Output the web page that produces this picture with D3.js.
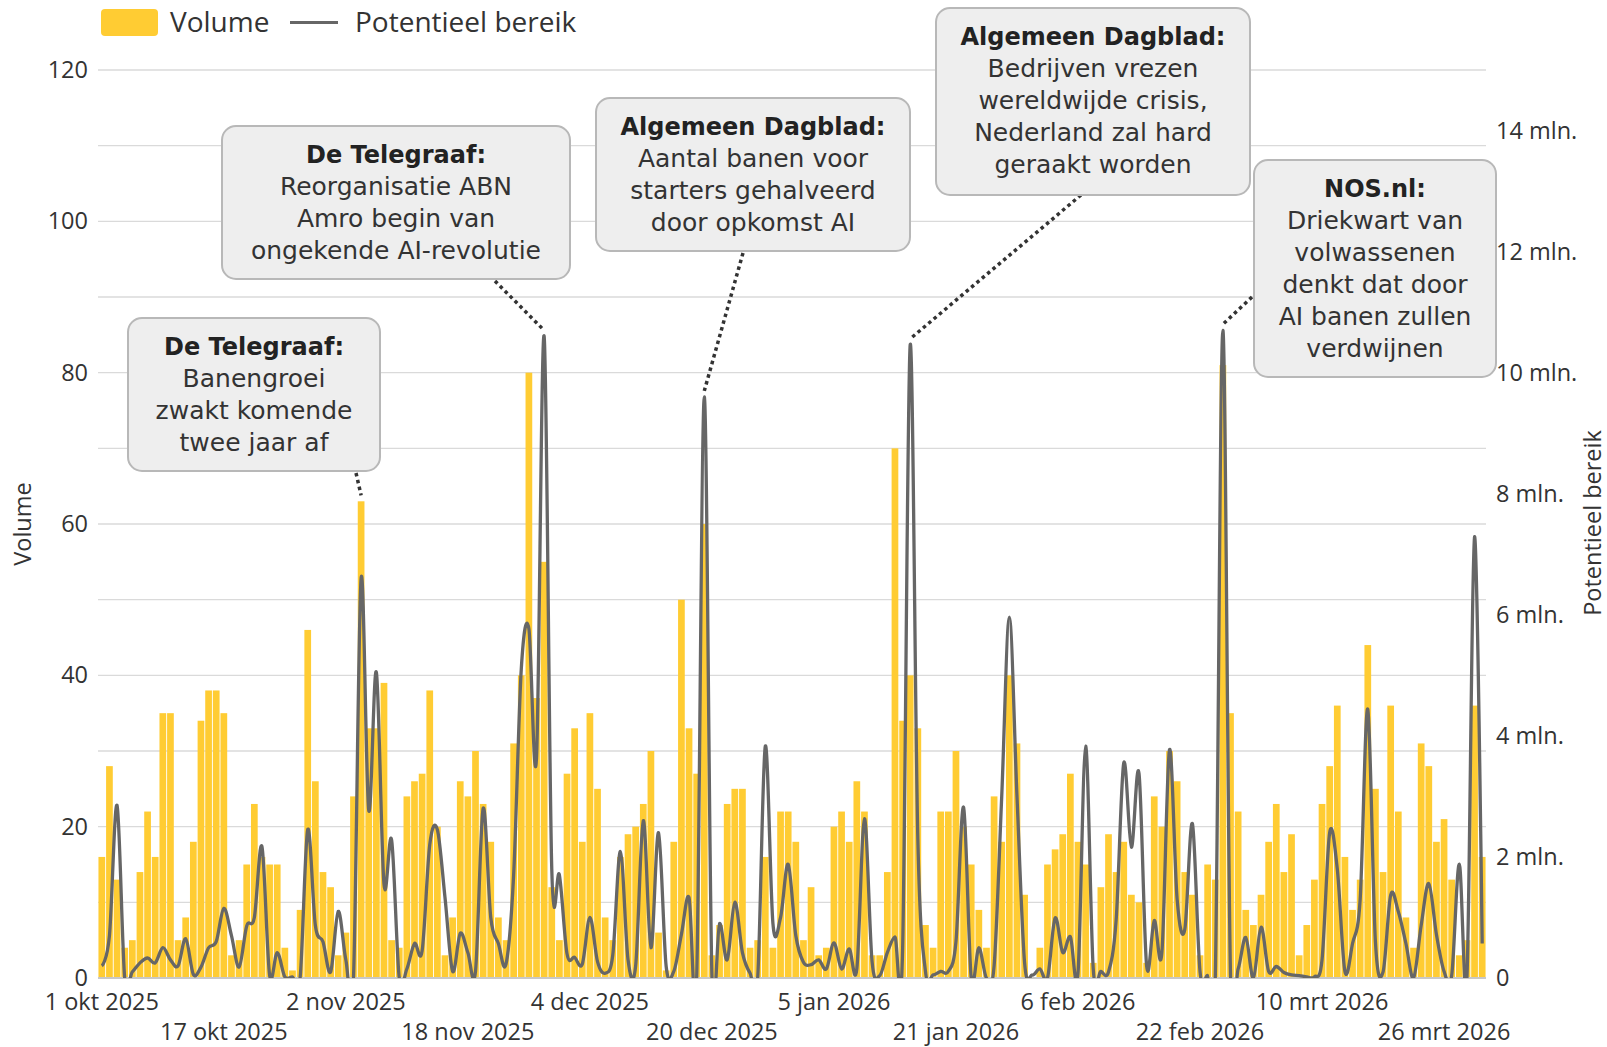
<!DOCTYPE html>
<html><head><meta charset="utf-8">
<script src="https://cdn.jsdelivr.net/npm/d3@7"></script>
<style>
html,body{margin:0;padding:0;background:#fff;}
svg{display:block;}
</style></head>
<body>
<svg id="chart" width="1607" height="1047"></svg>
<script>
// ---------------- DATA ----------------
const startDate = new Date(2025, 9, 1);   // 1 okt 2025
const dayCount = 182;                      // t/m 31 mrt 2026

const volume = [
  16,28,13,4,5,14,22,16,35,35, 5,8,18,34,38,38,35,3,5,15, 23,16,15,15,4,1,9,46,26,14, 12,
  3,6,24,63,33,33,39,5,4,24, 26,27,38,20,3,8,26,24,30,23, 18,8,5,31,40,80,37,55,12,5,
  27,33,18,35,25,8,5,16,19,20, 23,30,6,1,18,50,33,27,60,3, 7,23,25,25,4,5,16,4,22,22,
  18,5,12,3,4,20,22,18,26,22, 3,3,14,70,34,40,33,7,4,22, 22,30,20,15,9,4,24,18,40,31,
  11,0,4,15,17,19,27,18,15,2, 12,19,14,18,11,10,2,24,20,30, 26,14,11,3,15,13,81,35,22,9,
  7,11,18,23,14,19,3,7,13,23, 28,36,16,9,13,44,25,14,36,22, 8,4,31,28,18,21,13,3,5,36, 16
];

// Potentieel bereik, in miljoenen
const reach = [
  0.2,0.7,2.85,0,0.1,0.25,0.33,0.25,0.5,0.3, 0.2,0.65,0.06,0.18,0.5,0.6,1.15,0.7,0.18,0.86,
  1.0,2.17,0.05,0.42,0.02,0.02,0,2.45,0.87,0.6, 0.1,
  1.1,0.3,0,6.6,2.77,5.05,1.55,2.28,0,0.15, 0.57,0.45,2.2,2.45,1.33,0.11,0.74,0.42,0.11,2.8,
  1.0,0.57,0.23,1.7,5.1,5.77,3.64,10.6,1.8,1.7,
  0.4,0.34,0.23,1.0,0.27,0.08,0.38,2.09,0.3,0.2, 2.6,0.5,2.4,0.19,0.11,0.72,1.33,0,9.6,0.05,
  0.9,0.3,1.25,0.42,0.08,0,3.83,0.9,1.0,1.88,
  0.7,0.26,0.22,0.3,0.15,0.58,0.15,0.48,0.15,2.63, 0.27,0.04,0.42,0.68,0.45,10.46,2.3,0.11,0.05,0.11,
  0.11,0.6,2.82,0,0.5,0,0.2,3.0,5.96,3.0,
  0.25,0.05,0.15,0,0.99,0.42,0.68,0.08,3.83,0.15, 0.11,0.1,0.95,3.55,2.16,3.38,0.2,0.95,0.42,3.77,
  1.3,0.8,2.55,0.11,0.04,0,10.7,0.05,0.15,0.67,
  0,0.84,0.11,0.19,0.09,0.05,0.04,0.02,0.02,0.3, 2.4,1.8,0.11,0.57,1.3,4.44,0.6,0.1,1.37,1.1,
  0.57,0,0.87,1.56,0.72,0.11,0.04,1.88,0,7.29, 0.57
];

const leftTicks = [0,20,40,60,80,100,120];
const leftGrid = [0,10,20,30,40,50,60,70,80,90,100,110,120];
const rightTicks = [0,2,4,6,8,10,12,14];
const rightTickLabels = ["0","2 mln.","4 mln.","6 mln.","8 mln.","10 mln.","12 mln.","14 mln."];
const xTickDays = [0,16,32,48,64,80,96,112,128,144,160,176];
const xTickLabels = ["1 okt 2025","17 okt 2025","2 nov 2025","18 nov 2025","4 dec 2025","20 dec 2025",
                     "5 jan 2026","21 jan 2026","6 feb 2026","22 feb 2026","10 mrt 2026","26 mrt 2026"];
const legendLabels = ["Volume","Potentieel bereik"];
const axisTitles = ["Volume","Potentieel bereik"];

const annotationTitles = ["De Telegraaf:","De Telegraaf:","Algemeen Dagblad:","Algemeen Dagblad:","NOS.nl:"];
const annotationLines = [
  ["Banengroei","zwakt komende","twee jaar af"],
  ["Reorganisatie ABN","Amro begin van","ongekende AI-revolutie"],
  ["Aantal banen voor","starters gehalveerd","door opkomst AI"],
  ["Bedrijven vrezen","wereldwijde crisis,","Nederland zal hard","geraakt worden"],
  ["Driekwart van","volwassenen","denkt dat door","AI banen zullen","verdwijnen"]
];
const annotationDay = [34,58,79,106,147];
const annotationSeries = ["volume","reach","reach","reach","reach"];

// ---------------- LAYOUT ----------------
const plot = {left:98, right:1486, top:70, bottom:978};
const boxLayout = [
  {x:128, y:318, w:252, h:153, sx:356, sy:473},
  {x:222, y:126, w:348, h:153, sx:495, sy:281},
  {x:596, y:98,  w:314, h:153, sx:743, sy:253},
  {x:936, y:8,   w:314, h:187, sx:1081, sy:195},
  {x:1254,y:160, w:242, h:217, sx:1252, sy:297}
];
const C = {bar:"#ffcc33", line:"#666666", grid:"#dadada", axis:"#c8c8c8", text:"#333333"};
const axisFont = "'Open Sans', sans-serif";
const annoFont = "'DejaVu Sans', sans-serif";

const svg = d3.select("#chart");
const days = d3.range(dayCount).map(i => d3.timeDay.offset(startDate, i));

const x = d3.scaleBand().domain(d3.range(dayCount)).range([plot.left, plot.right])
  .paddingInner(0.12).paddingOuter(0.06);
const yL = d3.scaleLinear().domain([0,120]).range([plot.bottom, plot.top]);
const yR = d3.scaleLinear().domain([0,15]).range([plot.bottom, plot.top]);
const cx = i => x(i) + x.bandwidth()/2;

// grid
svg.append("g").selectAll("line").data(leftGrid).join("line")
  .attr("x1", plot.left).attr("x2", plot.right)
  .attr("y1", d => yL(d)).attr("y2", d => yL(d))
  .attr("stroke", C.grid).attr("stroke-width", 1.3);

// bars
svg.append("g").selectAll("rect").data(volume).join("rect")
  .attr("x", (d,i) => x(i)).attr("width", x.bandwidth())
  .attr("y", d => yL(d)).attr("height", d => yL(0) - yL(d))
  .attr("fill", C.bar);

// baseline
svg.append("line").attr("x1", plot.left).attr("x2", plot.right)
  .attr("y1", yL(0)).attr("y2", yL(0)).attr("stroke", C.axis).attr("stroke-width", 2);

// line
svg.append("clipPath").attr("id","clip").append("rect")
  .attr("x", plot.left - 10).attr("y", 0).attr("width", plot.right - plot.left + 20).attr("height", plot.bottom);
const lineGen = d3.line().x((d,i) => cx(i)).y(d => yR(d)).curve(d3.curveCardinal.tension(0));
svg.append("path").datum(reach).attr("d", lineGen)
  .attr("clip-path","url(#clip)")
  .attr("fill","none").attr("stroke", C.line).attr("stroke-width", 3.3)
  .attr("stroke-linejoin","round");

// left axis
const gL = svg.append("g").attr("transform", `translate(${plot.left},0)`)
  .call(d3.axisLeft(yL).tickValues(leftTicks).tickSize(0).tickPadding(10));
gL.select(".domain").remove();
gL.selectAll("text").attr("font-family", axisFont).attr("font-size", 23.5).attr("fill", C.text);

// right axis
const gR = svg.append("g").attr("transform", `translate(${plot.right},0)`)
  .call(d3.axisRight(yR).tickValues(rightTicks).tickFormat((d,i) => rightTickLabels[i]).tickSize(0).tickPadding(10));
gR.select(".domain").remove();
gR.selectAll("text").attr("font-family", axisFont).attr("font-size", 23.5).attr("fill", C.text);

// bottom axis
const gB = svg.append("g").attr("transform", `translate(0,${plot.bottom})`)
  .call(d3.axisBottom(x).tickValues(xTickDays).tickFormat((d,i) => xTickLabels[i]).tickSize(0).tickPadding(15));
gB.select(".domain").remove();
gB.selectAll("text").attr("font-family", axisFont).attr("font-size", 23.5).attr("fill", C.text)
  .attr("transform", (d,i) => i % 2 ? "translate(0,30)" : null);

// axis titles
svg.append("text").attr("transform", "translate(22,524) rotate(-90)")
  .attr("text-anchor","middle").attr("dominant-baseline","central")
  .attr("font-family", axisFont).attr("font-size", 23.5).attr("fill", C.text).text(axisTitles[0]);
svg.append("text").attr("transform", "translate(1592,523) rotate(-90)")
  .attr("text-anchor","middle").attr("dominant-baseline","central")
  .attr("font-family", axisFont).attr("font-size", 23.5).attr("fill", C.text).text(axisTitles[1]);

// legend
const lg = svg.append("g");
lg.append("rect").attr("x",101).attr("y",9).attr("width",57).attr("height",27).attr("rx",4).attr("fill",C.bar);
lg.append("text").attr("x",170).attr("y",32).attr("font-family",axisFont).attr("font-size",28).attr("fill",C.text).text(legendLabels[0]);
lg.append("line").attr("x1",290).attr("x2",338).attr("y1",22.5).attr("y2",22.5).attr("stroke",C.line).attr("stroke-width",3);
lg.append("text").attr("x",355).attr("y",32).attr("font-family",axisFont).attr("font-size",28).attr("fill",C.text).text(legendLabels[1]);

// annotations
annotationTitles.forEach((title, k) => {
  const b = boxLayout[k];
  const day = annotationDay[k];
  const ty = annotationSeries[k] === "volume" ? yL(volume[day]) : yR(reach[day]);
  const tx = cx(day);
  svg.append("line").attr("x1", b.sx).attr("y1", b.sy).attr("x2", tx).attr("y2", ty - 6)
    .attr("stroke","#333").attr("stroke-width",3.5).attr("stroke-dasharray","3.5 3.5");
  const g = svg.append("g");
  g.append("rect").attr("x", b.x).attr("y", b.y).attr("width", b.w).attr("height", b.h).attr("rx", 14)
    .attr("fill","#eeeeee").attr("stroke","#b8b8b8").attr("stroke-width",2);
  const t = g.append("text").attr("text-anchor","middle").attr("font-family", annoFont).attr("fill","#2b2b2b");
  const allLines = [title].concat(annotationLines[k]);
  allLines.forEach((ln, j) => {
    t.append("tspan").attr("x", b.x + b.w/2).attr("y", b.y + 37 + j*32)
      .attr("font-size", j === 0 ? 24 : 25).attr("font-weight", j === 0 ? "bold" : "normal")
      .attr("fill", j === 0 ? "#222" : "#333").text(ln);
  });
});
</script>
</body></html>
